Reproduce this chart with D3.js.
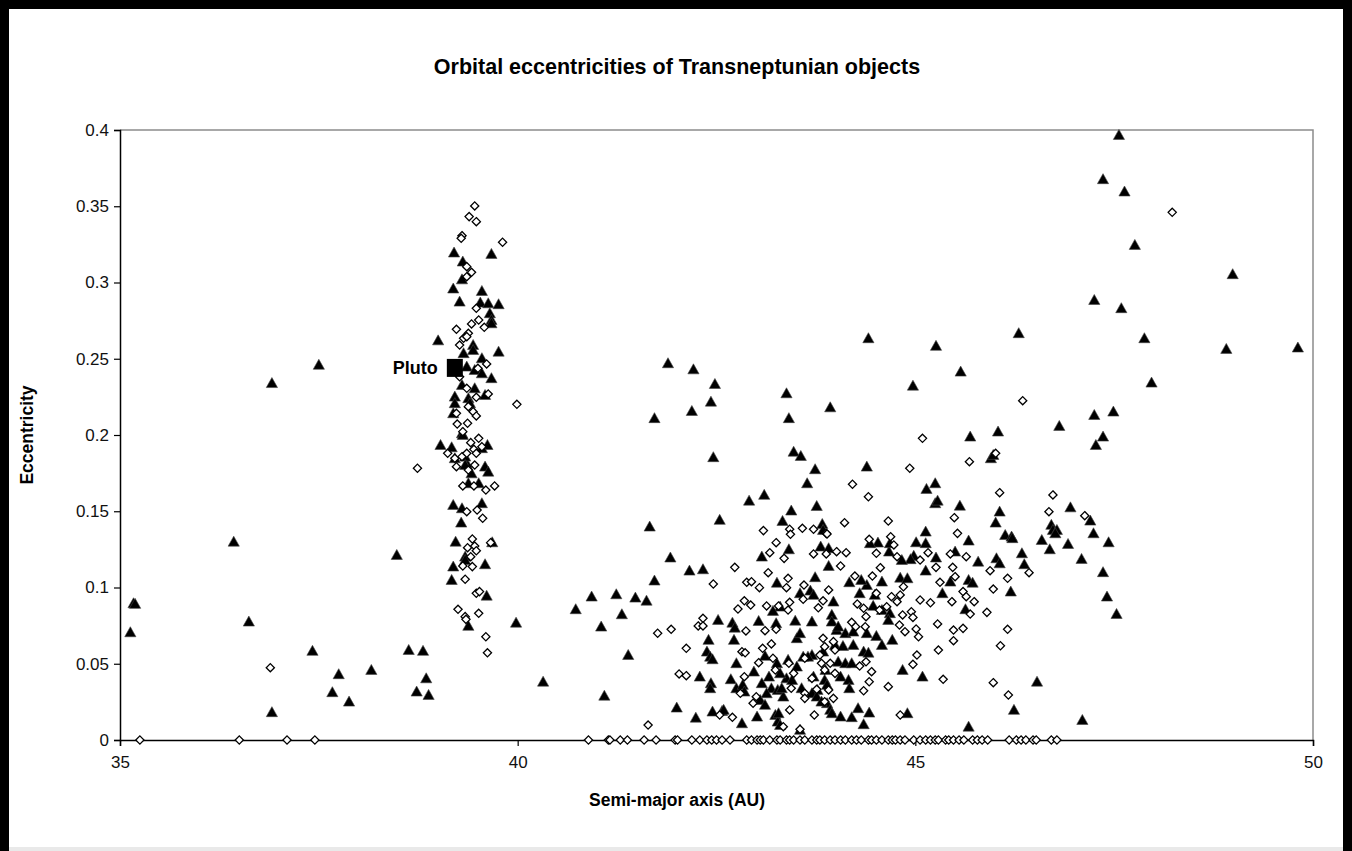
<!DOCTYPE html>
<html><head><meta charset="utf-8">
<script src="https://cdn.jsdelivr.net/npm/d3@7"></script>
<style>html,body{margin:0;padding:0;background:#fff;} svg{display:block;}</style>
</head><body>
<svg id="chart" width="1352" height="851"></svg>
<script>
const chartTitle = "Orbital eccentricities of Transneptunian objects";
const xTitle = "Semi-major axis (AU)";
const yTitle = "Eccentricity";
const xTicks = [35, 40, 45, 50];
const yTicks = [0, 0.05, 0.1, 0.15, 0.2, 0.25, 0.3, 0.35, 0.4];
const yTickLabels = ["0", "0.05", "0.1", "0.15", "0.2", "0.25", "0.3", "0.35", "0.4"];
const plutoLabel = "Pluto";
const pluto = [39.21, 0.244];

// filled triangles: [semi-major axis (AU), eccentricity]
const triangles = [
[35.17,0.0896],[35.19,0.0892],[35.13,0.0706],[36.43,0.130],[36.62,0.0776],[36.91,0.0182],[36.91,0.234],[37.50,0.246],
[37.42,0.0584],[37.75,0.0431],[37.67,0.0313],[37.88,0.0251],[38.16,0.0459],[38.48,0.1213],[38.63,0.059],[38.81,0.0584],
[38.85,0.0404],[38.73,0.0317],[38.88,0.0295],[39.00,0.262],
[39.20,0.3196],[39.67,0.3187],[39.31,0.3137],[39.30,0.302],[39.19,0.296],[39.55,0.2944],[39.27,0.2874],[39.53,0.2868],
[39.63,0.2863],[39.76,0.2857],[39.65,0.2798],[39.67,0.2754],[39.67,0.2732],[39.76,0.2546],[39.44,0.259],[39.44,0.2557],
[39.55,0.2503],[39.32,0.2536],[39.36,0.2448],[39.46,0.2426],[39.55,0.2404],[39.67,0.2372],[39.30,0.2328],[39.46,0.2306],
[39.59,0.2262],[39.21,0.2251],[39.21,0.2208],[39.38,0.2241],[39.40,0.2208],[39.19,0.2142],[39.30,0.2011],[39.03,0.1934],
[39.17,0.1919],[39.31,0.2],[39.62,0.1934],[39.55,0.1913],[39.21,0.1847],[39.36,0.1814],[39.34,0.1858],[39.59,0.1792],
[39.63,0.1759],[39.42,0.1748],[39.34,0.1803],[39.38,0.1683],[39.51,0.1683],[39.19,0.1541],[39.30,0.1519],[39.55,0.1552],
[39.29,0.1425],[39.22,0.130],[39.68,0.1296],[39.34,0.1202],[39.34,0.118],[39.19,0.1137],[39.59,0.1152],[39.17,0.1049],
[39.61,0.0946],[39.38,0.0748],[39.98,0.0769],[40.32,0.0382],
[40.73,0.0857],[40.93,0.094],[41.24,0.0955],[41.48,0.0933],[41.62,0.0913],[41.31,0.0824],[41.05,0.0743],[41.39,0.0557],
[41.09,0.029],[42.00,0.0212],[42.24,0.0146],[42.82,0.0109],[41.66,0.1399],[41.72,0.1045],[41.92,0.1196],[42.16,0.111],
[42.33,0.1119],[41.89,0.247],[42.21,0.243],[42.48,0.2334],[42.43,0.2218],[42.19,0.2157],[41.72,0.211],[43.38,0.2273],
[43.41,0.211],[43.93,0.2181],[42.46,0.1854],[43.47,0.189],[43.56,0.1862],[43.74,0.1775],[43.64,0.1683],[42.91,0.1569],
[43.10,0.1607],[43.44,0.1504],[43.76,0.1534],[42.54,0.1443],[43.33,0.1436],[43.83,0.1416],[43.07,0.1202],[43.41,0.125],
[43.81,0.1268],[43.91,0.1257],[43.91,0.1141],[43.74,0.1067],[42.52,0.0787],[42.70,0.0769],[42.73,0.0736],[43.03,0.078],
[43.25,0.0765],[42.40,0.0656],[42.72,0.0656],[42.38,0.0579],[42.42,0.0546],[42.45,0.0529],[42.75,0.0503],[42.29,0.0415],
[42.43,0.0372],[42.42,0.0339],[42.68,0.0398],[42.75,0.0339],[42.83,0.0361],[42.85,0.0317],[42.97,0.0448],[43.07,0.0372],
[43.16,0.0415],[43.19,0.0339],[43.27,0.0328],[43.34,0.0284],[43.38,0.0404],[43.45,0.0393],[43.51,0.0481],[43.59,0.0546],
[43.70,0.0557],[43.72,0.0415],[43.77,0.0328],[43.86,0.0393],[43.89,0.0241],[43.93,0.0197],[43.05,0.0262],[43.11,0.023],
[43.24,0.0164],[43.27,0.012],[43.01,0.0153],[42.57,0.019],[42.45,0.0186],[43.30,0.0098],[43.26,0.1031],[43.68,0.0979],
[43.72,0.0951],[43.97,0.0907],[43.55,0.0962],[43.30,0.0874],[43.21,0.0846],[43.49,0.0782],[43.70,0.0776],[43.95,0.082],
[43.95,0.0776],[44.01,0.0721],[43.51,0.0667],[43.55,0.07],[43.11,0.0551],[43.26,0.0503],[43.40,0.0525],[43.65,0.0546],
[43.84,0.0579],[44.03,0.0513],[43.30,0.0437],[43.57,0.0339],[43.89,0.0361],[43.13,0.0306],[43.32,0.0339],[43.70,0.0306],
[43.76,0.0284],[43.82,0.0251],[42.59,0.0197],[43.28,0.0175],[43.55,0.0066],
[44.41,0.2634],[45.26,0.2584],[46.30,0.2667],[45.57,0.2415],[44.97,0.2323],[47.25,0.2131],[47.49,0.2153],[46.81,0.2059],
[47.36,0.1989],[47.27,0.1934],[45.69,0.1989],[46.04,0.2022],[45.95,0.1847],[45.98,0.1869],[44.39,0.1792],[45.14,0.1646],
[45.25,0.1683],[45.25,0.1552],[45.28,0.1569],[45.56,0.1536],[46.06,0.1497],[46.01,0.1425],[46.95,0.1525],[47.20,0.1438],
[47.24,0.1355],[47.43,0.1296],[46.71,0.141],[46.73,0.1377],[46.78,0.1377],[46.76,0.1355],[46.59,0.1311],[46.69,0.125],
[46.92,0.1285],[47.09,0.1187],[47.36,0.11],[47.41,0.094],[47.53,0.0826],[46.13,0.1344],[46.21,0.1333],[46.22,0.1323],
[45.67,0.1307],[46.34,0.1224],[46.37,0.1152],[46.02,0.1191],[46.06,0.1158],[46.20,0.0973],[45.79,0.1169],[45.50,0.1235],
[45.44,0.1038],[45.34,0.0962],[45.13,0.1366],[45.01,0.1296],[45.13,0.129],[45.26,0.1196],[45.13,0.111],[44.98,0.1207],
[44.94,0.1185],[44.83,0.118],[44.67,0.1235],[44.68,0.129],[44.53,0.1294],[44.43,0.129],[45.67,0.1049],[45.72,0.1031],
[45.63,0.0857],[44.81,0.1064],[44.90,0.106],[44.58,0.1038],[44.39,0.1016],[44.32,0.1049],[44.17,0.1034],[44.30,0.0962],
[44.49,0.0951],[44.47,0.0879],[44.58,0.0852],[44.68,0.0831],[44.66,0.0787],[44.03,0.0743],[44.12,0.07],[44.22,0.071],
[44.39,0.07],[44.51,0.0682],[44.71,0.0656],[43.99,0.0623],[44.09,0.0616],[44.22,0.0623],[44.35,0.0579],[44.41,0.0572],
[44.58,0.0623],[44.12,0.0503],[44.20,0.0503],[44.06,0.0415],[44.16,0.0393],[44.17,0.0339],[43.87,0.0459],[44.84,0.0459],
[45.09,0.0415],[43.95,0.0175],[44.06,0.0153],[44.20,0.0149],[44.28,0.0208],[44.42,0.0179],[44.35,0.0103],[44.90,0.0175],
[45.67,0.0087],[46.24,0.0197],[46.53,0.0382],[47.10,0.0131],[43.84,0.1377],
[47.56,0.3967],[47.36,0.3677],[47.63,0.3596],[47.76,0.3246],[48.99,0.3054],[47.25,0.2885],[47.59,0.2831],[47.88,0.2634],
[48.91,0.2564],[49.81,0.2573],[47.97,0.2343]
];

// open diamonds: [semi-major axis (AU), eccentricity]
const diamonds = [
[39.46,0.3502],[39.39,0.3432],[39.48,0.3399],[39.30,0.3307],[39.29,0.3290],[39.81,0.3264],[39.36,0.3104],[39.42,0.3067],
[39.36,0.3038],[39.48,0.2831],[39.42,0.2728],[39.51,0.2754],[39.58,0.2706],[39.23,0.2693],[39.32,0.2634],[39.38,0.2667],
[39.27,0.259],[39.36,0.2645],[39.61,0.2466],[39.50,0.2437],[39.27,0.2382],[39.36,0.2306],[39.63,0.2269],[39.48,0.2247],
[39.38,0.2186],[39.44,0.2153],[39.23,0.2142],[39.48,0.2125],[39.24,0.2072],[39.37,0.2077],[39.31,0.2022],[39.51,0.1978],
[39.99,0.2201],[38.74,0.1782],[36.89,0.0474],
[39.41,0.195],[39.45,0.1906],[39.55,0.1923],[39.48,0.188],[39.12,0.188],[39.21,0.1847],[39.30,0.1858],[39.36,0.188],
[39.23,0.1792],[39.38,0.177],[39.46,0.1803],[39.31,0.1666],[39.45,0.1666],[39.60,0.1639],[39.71,0.1666],[39.36,0.1497],
[39.49,0.1508],[39.56,0.1454],[39.43,0.1318],[39.37,0.1261],[39.46,0.1272],[39.48,0.1241],[39.41,0.1202],[39.31,0.1141],
[39.43,0.1137],[39.34,0.1054],[39.66,0.1294],[39.48,0.0962],[39.52,0.0973],[39.25,0.0857],[39.34,0.0809],[39.51,0.0831],
[39.35,0.0791],[39.60,0.0677],[39.62,0.0572],
[43.09,0.1373],[43.42,0.1382],[43.43,0.1349],[43.58,0.1388],[43.72,0.1382],[43.88,0.1355],[44.01,0.1235],[43.25,0.1294],
[43.17,0.1228],[43.35,0.1191],[43.72,0.122],[43.88,0.122],[42.73,0.1132],[43.15,0.1097],[42.46,0.1023],[42.88,0.1034],
[42.94,0.1038],[43.04,0.0999],[43.40,0.106],[43.38,0.0999],[43.60,0.1016],[43.91,0.0984],[42.85,0.0913],[42.77,0.0859],
[42.93,0.0885],[43.13,0.0879],[43.28,0.0879],[43.42,0.0903],[43.40,0.0852],[43.59,0.0923],[43.78,0.0867],[42.33,0.0798],
[42.27,0.0748],[42.33,0.0748],[41.76,0.07],[41.93,0.0726],[42.87,0.0715],[43.11,0.0717],[43.25,0.0726],[42.12,0.0601],
[42.82,0.0579],[42.86,0.0572],[43.08,0.0601],[43.19,0.063],[43.03,0.0507],[43.21,0.0536],[43.41,0.0503],[43.61,0.0536],
[43.80,0.0557],[43.93,0.0503],[42.03,0.0433],[42.12,0.0422],[42.85,0.0415],[43.24,0.0459],[43.47,0.0437],[43.70,0.0404],
[43.86,0.0459],[43.99,0.0437],[42.80,0.0306],[43.00,0.0284],[42.96,0.0241],[43.44,0.0339],[43.61,0.0306],[43.61,0.0273],
[43.76,0.0332],[43.91,0.0328],[43.42,0.0197],[42.54,0.0164],[42.70,0.0149],[43.34,0.0087],[43.55,0.007],[43.73,0.0164],
[41.64,0.0098],
[46.35,0.2225],[45.09,0.1978],[44.93,0.1782],[45.68,0.1825],[46.01,0.188],[44.21,0.1677],[44.41,0.1595],[46.06,0.1622],
[46.73,0.1607],[46.68,0.1497],[47.13,0.1471],[44.11,0.1425],[44.66,0.1436],[44.69,0.1333],[45.49,0.1458],[45.53,0.1355],
[44.42,0.1316],[43.89,0.1351],[44.13,0.1228],[44.51,0.1224],[44.73,0.1279],[44.77,0.1202],[45.06,0.118],[45.16,0.1228],
[45.44,0.122],[45.64,0.1202],[44.06,0.1141],[44.56,0.113],[44.24,0.1075],[44.46,0.1075],[45.26,0.1132],[45.47,0.1132],
[45.50,0.1071],[45.94,0.111],[46.16,0.106],[45.98,0.099],[46.43,0.1097],[45.31,0.1034],[43.84,0.0913],[44.51,0.0962],
[44.70,0.094],[44.85,0.1005],[44.81,0.0951],[44.27,0.0892],[44.35,0.0864],[44.38,0.0809],[44.55,0.0852],[44.64,0.0874],
[44.77,0.0907],[44.84,0.082],[44.95,0.0841],[45.06,0.0918],[45.19,0.09],[44.97,0.0804],[45.46,0.0907],[45.60,0.0973],
[45.64,0.094],[45.74,0.0907],[45.69,0.0826],[45.90,0.0837],[44.20,0.0772],[44.25,0.0743],[44.37,0.0743],[44.80,0.0754],
[44.87,0.071],[45.04,0.0677],[45.01,0.0728],[45.28,0.0761],[45.48,0.0721],[45.60,0.0732],[45.48,0.0651],[46.16,0.0726],
[46.07,0.0618],[43.84,0.0667],[43.97,0.0645],[43.86,0.0612],[43.99,0.059],[43.82,0.0503],[44.30,0.0485],[44.38,0.0513],
[44.45,0.0448],[44.42,0.0382],[44.35,0.0323],[44.97,0.0496],[45.02,0.0557],[45.29,0.059],[45.35,0.0398],[44.66,0.035],
[45.98,0.0376],[46.17,0.0295],[44.81,0.0164],[43.97,0.0273],[43.86,0.0251],
[48.23,0.346]
];

// open diamonds sitting on e = 0: semi-major axis (AU)
const zeroEccA = [
35.25,36.50,37.10,37.45,
40.89,41.14,41.16,41.29,41.38,41.59,41.74,41.98,42.01,42.19,42.29,42.38,42.44,42.50,42.57,42.67,42.88,42.94,43.01,43.05,
43.09,43.17,43.26,43.30,43.38,43.42,43.47,43.55,43.61,43.70,43.76,43.80,43.86,43.93,43.99,44.06,44.12,44.20,44.26,44.32,
44.41,44.45,44.51,44.58,44.66,44.71,44.75,44.81,44.87,44.98,45.06,45.13,45.19,45.25,45.29,45.38,45.42,45.48,45.55,45.61,
45.72,45.78,45.84,45.91,46.18,46.27,46.33,46.39,46.48,46.52,46.71,46.78
];

const W = 1352, H = 851;
const svg = d3.select("#chart");
const font = "'Liberation Sans', Arial, sans-serif";

// frame
svg.append("rect").attr("x",0).attr("y",0).attr("width",W).attr("height",H).attr("fill","#000");
svg.append("rect").attr("x",9).attr("y",9).attr("width",W-18).attr("height",H-9).attr("fill","#fff");
svg.append("rect").attr("x",9).attr("y",H-4).attr("width",W-18).attr("height",4).attr("fill","#e9e9e9");

const plot = {left:120, right:1313, top:130, bottom:740};
const x = d3.scaleLinear().domain([35,50]).range([plot.left, plot.right]);
const y = d3.scaleLinear().domain([0,0.4]).range([plot.bottom, plot.top]);
const centerX = W / 2 + 1;

// plot frame (top & right gray)
svg.append("path")
  .attr("d", `M${x(35)},${y(0.4)}H${x(50)}V${y(0)}`)
  .attr("fill","none").attr("stroke","#8c8c8c").attr("stroke-width",1.5);

// axes
const yAxis = d3.axisLeft(y).tickValues(yTicks).tickFormat((d,i)=>yTickLabels[i]).tickSize(6).tickPadding(5);
const gy = svg.append("g").attr("transform",`translate(${x(35)},0)`).call(yAxis);
const xAxis = d3.axisBottom(x).tickValues(xTicks).tickFormat(d3.format("d")).tickSize(6).tickPadding(10);
const gx = svg.append("g").attr("transform",`translate(0,${y(0)})`).call(xAxis);
[gx, gy].forEach(g => {
  g.select(".domain").attr("stroke","#000").attr("stroke-width",1.5);
  g.selectAll(".tick line").attr("stroke","#000").attr("stroke-width",1.2);
  g.selectAll(".tick text").attr("font-family",font).attr("font-size",17).attr("fill","#111");
});

// markers
const triPath = "M0,-5.6L5.6,4.4L-5.6,4.4Z";
const diaPath = "M0,-4.1L4.1,0L0,4.1L-4.1,0Z";

svg.append("g").selectAll("path").data(triangles).join("path")
  .attr("d", triPath)
  .attr("transform", d => `translate(${x(d[0])},${y(d[1])})`)
  .attr("fill","#000").attr("stroke","#444").attr("stroke-width",0.6);

svg.append("g").selectAll("path").data(diamonds).join("path")
  .attr("d", diaPath)
  .attr("transform", d => `translate(${x(d[0])},${y(d[1])})`)
  .attr("fill","#fff").attr("stroke","#000").attr("stroke-width",1.3);

svg.append("g").selectAll("path").data(zeroEccA).join("path")
  .attr("d", diaPath)
  .attr("transform", d => `translate(${x(d)},${y(0)})`)
  .attr("fill","#fff").attr("stroke","#000").attr("stroke-width",1.3);

// Pluto
svg.append("rect")
  .attr("x", x(pluto[0]) - 8).attr("y", y(pluto[1]) - 9)
  .attr("width", 16).attr("height", 18).attr("fill","#000");
svg.append("text")
  .attr("x", x(pluto[0]) - 17).attr("y", y(pluto[1]) + 6)
  .attr("text-anchor","end").attr("font-family",font).attr("font-weight","bold")
  .attr("font-size",18).text(plutoLabel);

// titles
svg.append("text").attr("x",centerX).attr("y",74)
  .attr("text-anchor","middle").attr("font-family",font).attr("font-weight","bold")
  .attr("font-size",21.5).text(chartTitle);
svg.append("text").attr("x",centerX).attr("y",806)
  .attr("text-anchor","middle").attr("font-family",font).attr("font-weight","bold")
  .attr("font-size",17.5).text(xTitle);
svg.append("text").attr("transform",`translate(33,${(y(0)+y(0.4))/2}) rotate(-90)`)
  .attr("text-anchor","middle").attr("font-family",font).attr("font-weight","bold")
  .attr("font-size",17.5).text(yTitle);
</script>
</body></html>
